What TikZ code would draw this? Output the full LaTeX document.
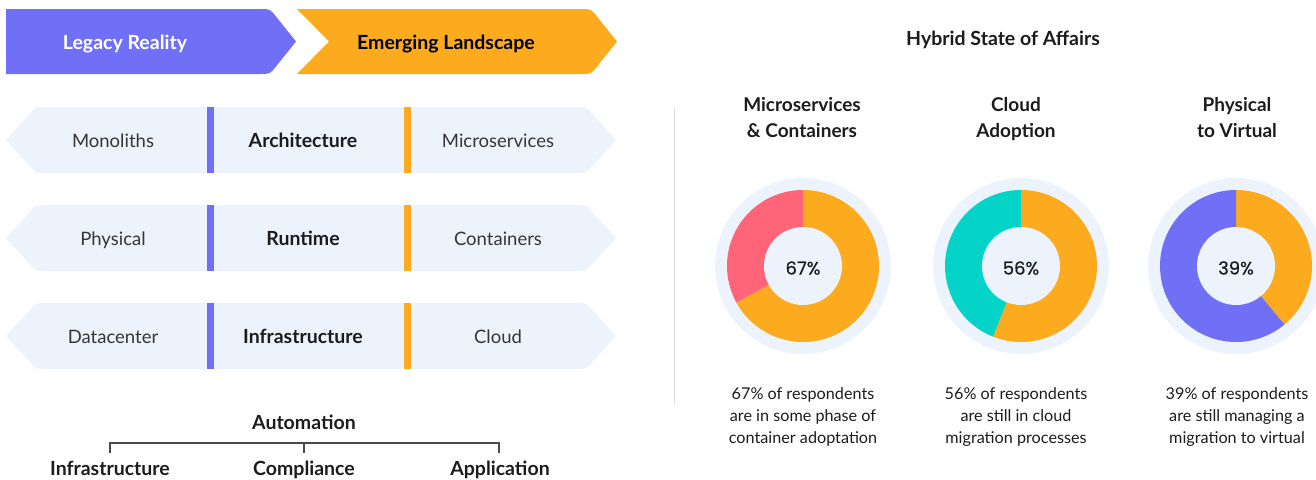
\documentclass[tikz,border=0pt]{standalone}
\usepackage{fontspec}
\setmainfont{Lato}
\newfontfamily\popfont{Poppins}[FakeBold=0.7]
\definecolor{purpleC}{HTML}{7070F7}
\definecolor{orangeC}{HTML}{FDAB1E}
\definecolor{pinkC}{HTML}{FF6478}
\definecolor{tealC}{HTML}{03D4C7}
\definecolor{lightC}{HTML}{EDF3FD}
\definecolor{textC}{HTML}{1C1C1C}
\definecolor{softC}{HTML}{353535}
\definecolor{lineC}{HTML}{4A4A4A}
\definecolor{divC}{HTML}{DCDCDC}
\tikzset{
  hdr/.style={font=\fontsize{19.5}{22}\selectfont\bfseries, inner sep=0pt, text height=16pt, text depth=2pt},
  lt/.style={font=\fontsize{18.5}{22}\selectfont, text=softC, inner sep=0pt, text height=16pt, text depth=2pt},
  bt/.style={font=\fontsize{19.5}{22}\selectfont\bfseries, text=textC, inner sep=0pt, text height=16pt, text depth=2pt},
  ttl/.style={font=\fontsize{19}{26}\selectfont\bfseries, text=textC, inner sep=0pt, align=center, anchor=north},
  small/.style={font=\fontsize{16.2}{22}\selectfont, text=textC, inner sep=0pt, align=center, anchor=north},
  pct/.style={font=\popfont\fontsize{18}{21}\selectfont, text=textC},
  ring/.style={circle, fill=lightC, minimum size=176pt, inner sep=0pt},
  hole/.style={circle, fill=lightC, minimum size=78pt, inner sep=0pt},
  brk/.style={draw=lineC, line width=1.2pt},
  divider/.style={draw=divC, line width=1pt}
}
\begin{document}
\begin{tikzpicture}[x=1pt,y=1pt]
\useasboundingbox (0,0) rectangle (1316,-479);

% header arrows
\fill[purpleC] (6,-9) -- (260,-9) .. controls (270,-9) .. (276.2,-16.8) -- (296,-41.5)
  -- (276.2,-66.2) .. controls (270,-74) .. (260,-74) -- (6,-74) -- cycle;
\fill[orangeC] (297,-9) -- (581,-9) .. controls (591,-9) .. (597.2,-16.8) -- (617,-41.5)
  -- (597.2,-66.2) .. controls (591,-74) .. (581,-74) -- (297,-74) -- (329,-41.5) -- cycle;
\node[hdr, text=white] (legacy) at (125,-42) {Legacy Reality};
\node[hdr, text=black] (emerging) at (446,-42) {Emerging Landscape};

% rows
\foreach \c in {140,238,336}{
  \fill[lightC] (6,-\c) -- (29.3,-\c+25.6) .. controls (36,-\c+33) .. (46,-\c+33)
    -- (576,-\c+33) .. controls (586,-\c+33) .. (592.7,-\c+25.6) -- (616,-\c)
    -- (592.7,-\c-25.6) .. controls (586,-\c-33) .. (576,-\c-33)
    -- (46,-\c-33) .. controls (36,-\c-33) .. (29.3,-\c-25.6) -- cycle;
  \fill[purpleC] (207,-\c+33) rectangle (214,-\c-33);
  \fill[orangeC] (404,-\c+33) rectangle (411,-\c-33);
}
\node[lt] (mono) at (113,-140) {Monoliths};
\node[bt] (arch) at (303,-140) {Architecture};
\node[lt] (micro) at (498,-140) {Microservices};
\node[lt] (phys) at (113,-238) {Physical};
\node[bt] (run) at (303,-238) {Runtime};
\node[lt] (cont) at (498,-238) {Containers};
\node[lt] (dc) at (113,-336) {Datacenter};
\node[bt] (infra) at (303,-336) {Infrastructure};
\node[lt] (cloud) at (498,-336) {Cloud};

% automation bracket
\node[bt] (auto) at (304,-422) {Automation};
\node[bt] (binf) at (110,-468) {Infrastructure};
\node[bt] (bcomp) at (304,-468) {Compliance};
\node[bt] (bapp) at (500,-468) {Application};
\coordinate (t1) at (110,-453);
\coordinate (t2) at (304,-453);
\coordinate (t3) at (499,-453);
\draw[brk] (t1) -- ++(0,10) -| (t3);
\draw[brk] (t2) -- ++(0,10);

% divider
\draw[divider] (674,-108) -- (674,-405);

% right side
\node[bt] (hybrid) at (1003,-38) {Hybrid State of Affairs};
\node[ttl] (t-ms) at (802,-97) {Microservices\\\& Containers};
\node[ttl] (t-cl) at (1016,-97) {Cloud\\Adoption};
\node[ttl] (t-pv) at (1237,-97) {Physical\\to Virtual};

% donut 1
\node[ring] (d1) at (803,-266) {};
\fill[orangeC] (d1.center) -- ++(90:76pt) arc[start angle=90, end angle=-151.2, radius=76pt] -- cycle;
\fill[pinkC] (d1.center) -- ++(90:76pt) arc[start angle=90, end angle=208.8, radius=76pt] -- cycle;
\node[hole] (h1) at (d1.center) {};
\node[pct] (p1) at (803,-268) {67\%};

% donut 2
\node[ring] (d2) at (1021,-266) {};
\fill[orangeC] (d2.center) -- ++(90:76pt) arc[start angle=90, end angle=-111.6, radius=76pt] -- cycle;
\fill[tealC] (d2.center) -- ++(90:76pt) arc[start angle=90, end angle=248.4, radius=76pt] -- cycle;
\node[hole] (h2) at (d2.center) {};
\node[pct] (p2) at (1021,-268) {56\%};

% donut 3
\node[ring] (d3) at (1236,-266) {};
\fill[orangeC] (d3.center) -- ++(90:76pt) arc[start angle=90, end angle=-50.4, radius=76pt] -- cycle;
\fill[purpleC] (d3.center) -- ++(90:76pt) arc[start angle=90, end angle=309.6, radius=76pt] -- cycle;
\node[hole] (h3) at (d3.center) {};
\node[pct] (p3) at (1236,-268) {39\%};

% captions
\node[small] (c1) at (803,-387) {67\% of respondents\\are in some phase of\\container adoptation};
\node[small] (c2) at (1016,-387) {56\% of respondents\\are still in cloud\\migration processes};
\node[small] (c3) at (1237,-387) {39\% of respondents\\are still managing a\\migration to virtual};
\end{tikzpicture}
\end{document}
